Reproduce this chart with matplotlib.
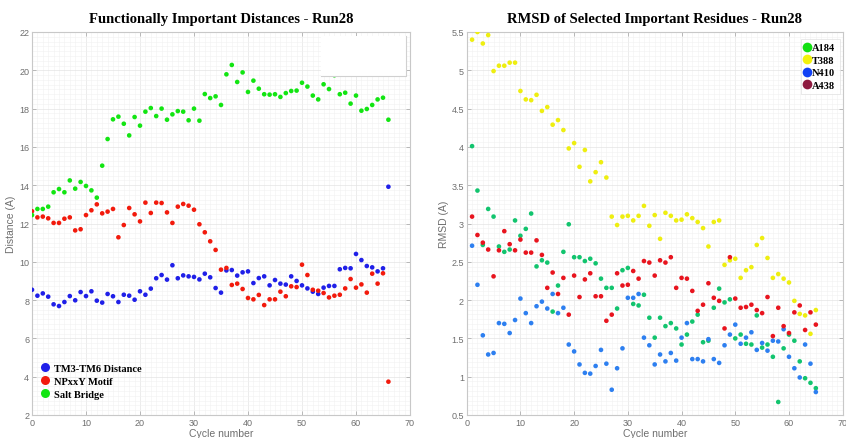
import matplotlib
matplotlib.use("Agg")
import matplotlib.pyplot as plt
from matplotlib.ticker import MultipleLocator, FuncFormatter
from matplotlib.lines import Line2D
from matplotlib.patches import Rectangle

# ---- Functionally important distances (cycles 0..66) ----
cycles_dist = list(range(0, 67))

tm3_tm6 = [8.54, 8.23, 8.35, 8.18, 7.78, 7.69, 7.90, 8.21, 7.99, 8.42,
           8.21, 8.46, 7.97, 7.87, 8.32, 8.20, 7.90, 8.28, 8.23, 8.02,
           8.46, 8.28, 8.60, 9.14, 9.31, 9.07, 9.82, 9.14, 9.29, 9.24,
           9.21, 9.08, 9.38, 9.19, 8.63, 8.39, 9.55, 9.57, 9.28, 9.45,
           9.50, 8.89, 9.15, 9.24, 8.77, 9.05, 8.86, 8.81, 9.24, 9.00,
           8.77, 8.61, 8.44, 8.32, 8.65, 8.74, 8.74, 9.61, 9.68, 9.66,
           10.41, 10.09, 9.78, 9.71, 9.50, 9.66, 13.92]

npxxy = [12.64, 12.32, 12.36, 12.27, 12.03, 12.03, 12.25, 12.32, 11.64, 11.70,
         12.44, 12.69, 13.00, 12.53, 12.62, 12.76, 11.28, 11.92, 12.81, 12.48,
         12.11, 13.09, 12.55, 13.09, 13.07, 12.58, 12.03, 12.88, 13.02, 12.93,
         12.72, 11.96, 11.54, 11.07, 10.62, 9.59, 9.68, 8.79, 8.86, 8.58,
         8.11, 8.04, 8.27, 7.74, 8.04, 8.04, 8.44, 8.20, 8.72, 8.68,
         9.85, 9.31, 8.54, 8.49, 8.37, 8.14, 8.23, 8.28, 8.61, 9.10,
         8.65, 8.82, 8.39, 9.38, 8.86, 9.40, 3.74]

salt_bridge = [12.44, 12.76, 12.76, 12.88, 13.63, 13.80, 13.63, 14.25, 13.82, 14.17,
               13.96, 13.73, 13.35, 15.02, 16.41, 17.44, 17.58, 17.21, 16.60, 17.56,
               17.11, 17.84, 18.03, 17.61, 18.00, 17.42, 17.70, 17.87, 17.84, 17.39,
               18.00, 17.37, 18.76, 18.55, 18.64, 18.19, 19.79, 20.28, 19.39, 19.89,
               18.87, 19.46, 19.04, 18.75, 18.73, 18.75, 18.61, 18.81, 18.92, 18.94,
               19.35, 19.15, 18.68, 18.48, 19.27, 19.02, 19.74, 18.75, 18.83, 18.26,
               18.68, 17.89, 17.98, 18.19, 18.48, 18.57, 17.42]

dist_labels = ["TM3-TM6 Distance", "NPxxY Motif", "Salt Bridge"]

# ---- RMSD of selected residues (cycles 1..65) ----
cycles_rmsd = list(range(1, 66))

a184 = [4.01, 3.43, 2.72, 3.19, 3.09, 2.70, 2.63, 2.66, 3.04, 2.84,
        2.93, 3.13, 2.44, 2.52, 2.49, 1.85, 2.19, 2.63, 2.99, 2.56,
        2.56, 2.51, 2.54, 2.48, 2.28, 2.16, 2.16, 1.89, 2.39, 2.42,
        1.95, 1.93, 2.07, 1.77, 1.51, 1.77, 1.66, 1.70, 1.63, 1.42,
        1.55, 1.72, 1.81, 1.45, 1.47, 1.90, 2.15, 1.97, 2.01, 1.50,
        1.55, 1.43, 1.42, 1.80, 1.38, 1.42, 1.26, 0.67, 1.37, 1.55,
        1.47, 1.20, 0.98, 0.92, 0.85]

t388 = [5.40, 5.50, 5.35, 5.46, 4.99, 5.06, 5.06, 5.10, 5.10, 4.73,
        4.62, 4.61, 4.68, 4.47, 4.52, 4.29, 4.35, 4.22, 3.98, 4.05,
        3.74, 3.96, 3.55, 3.67, 3.80, 3.60, 3.09, 2.98, 3.09, 3.10,
        3.04, 3.10, 3.23, 2.97, 3.11, 2.80, 3.14, 3.10, 3.04, 3.05,
        3.12, 3.07, 3.02, 2.94, 2.70, 3.02, 3.04, 2.46, 2.52, 2.54,
        2.29, 2.39, 2.43, 2.72, 2.81, 2.55, 2.29, 2.34, 2.28, 2.23,
        1.99, 1.82, 1.80, 1.56, 1.87]

n410 = [2.71, 2.20, 1.54, 1.29, 1.31, 1.70, 1.69, 1.57, 1.74, 2.02,
        1.83, 1.70, 1.92, 1.98, 1.89, 2.08, 1.83, 1.90, 1.42, 1.33,
        1.16, 1.05, 1.04, 1.14, 1.35, 1.17, 0.83, 1.11, 1.37, 2.03,
        2.03, 2.08, 1.51, 1.41, 1.16, 1.29, 1.20, 1.31, 1.21, 1.51,
        1.70, 1.23, 1.23, 1.20, 1.49, 1.23, 1.18, 1.41, 1.55, 1.68,
        1.43, 1.51, 1.58, 1.35, 1.44, 1.34, 1.47, 1.46, 1.62, 1.26,
        1.11, 0.99, 1.42, 1.17, 0.80]

a438 = [3.09, 2.85, 2.75, 2.66, 2.31, 2.65, 2.90, 2.73, 2.65, 2.79,
        2.62, 2.62, 2.78, 2.59, 2.16, 2.36, 2.08, 2.29, 1.81, 2.32,
        2.04, 2.27, 2.35, 2.05, 2.05, 1.73, 1.81, 2.35, 2.19, 2.20,
        2.38, 2.28, 2.51, 2.49, 2.32, 2.52, 2.49, 2.56, 2.16, 2.29,
        2.28, 2.12, 1.86, 1.94, 2.22, 2.03, 1.99, 1.63, 2.56, 2.02,
        1.90, 1.91, 1.94, 1.87, 1.83, 2.04, 1.53, 1.90, 1.66, 1.57,
        1.84, 1.93, 1.61, 1.84, 1.68]

rmsd_labels = ["A184", "T388", "N410", "A438"]

# ---- styling ----
SERIF = ["Liberation Serif", "DejaVu Serif"]
SANS = ["Liberation Sans", "DejaVu Sans"]
TICK_GRAY = "#6e6e6e"
SPINE_GRAY = "#c8c8c8"

plt.rcParams["font.family"] = SANS

fig = plt.figure(figsize=(8.46, 4.39), dpi=100)
ax1 = fig.add_axes([32 / 846, 1 - 416 / 439, 378 / 846, 383 / 439])
ax2 = fig.add_axes([466.7 / 846, 1 - 416 / 439, 376 / 846, 383 / 439])

# compact tick text: 5 instead of 5.0, 2.5 stays 2.5
compact = FuncFormatter(lambda v, _: f"{v:g}")


def style_axes(ax, xmajor, ymajor, xminor, yminor):
    ax.xaxis.set_major_locator(MultipleLocator(xmajor))
    ax.yaxis.set_major_locator(MultipleLocator(ymajor))
    ax.xaxis.set_minor_locator(MultipleLocator(xminor))
    ax.yaxis.set_minor_locator(MultipleLocator(yminor))
    ax.xaxis.set_major_formatter(compact)
    ax.yaxis.set_major_formatter(compact)
    ax.grid(which="major", color="#e4e4e4", linewidth=0.5)
    ax.grid(which="minor", color="#f1f1f1", linewidth=0.4)
    ax.set_axisbelow(True)
    for sp in ax.spines.values():
        sp.set_color(SPINE_GRAY)
        sp.set_linewidth(0.8)
    ax.tick_params(which="major", direction="in", length=3, width=0.6,
                   color="#b0b0b0", labelsize=6.5, labelcolor=TICK_GRAY,
                   top=True, right=True, pad=2)
    ax.tick_params(which="minor", length=0)


# Left panel: distances
style_axes(ax1, 10, 2, 1, 0.25)
ax1.set_xlim(0, 70)
ax1.set_ylim(2, 22)
dist_colors = ["#1f1fe8", "#f21a0c", "#12e512"]
for series, col in zip([tm3_tm6, npxxy, salt_bridge], dist_colors):
    ax1.scatter(cycles_dist, series, s=11, color=col, edgecolors="none", zorder=3)
ax1.set_xlabel("Cycle number", fontsize=7.5, color=TICK_GRAY, labelpad=1)
ax1.set_ylabel("Distance (A)", fontsize=7.5, color=TICK_GRAY, labelpad=2)
ax1.set_title("Functionally Important Distances - Run28", family=SERIF,
              fontweight="bold", fontsize=10.5, pad=7)
# empty legend box in the top-right corner
ax1.add_patch(Rectangle((0.765, 0.885), 0.225, 0.105, transform=ax1.transAxes,
                        facecolor="white", edgecolor="none", zorder=4))
ax1.plot([0.765, 0.99, 0.99], [0.885, 0.885, 0.99], transform=ax1.transAxes,
         color="#d0d0d0", linewidth=0.8, zorder=5)

handles1 = [Line2D([], [], linestyle="none", marker="o", markersize=6.5,
                   markerfacecolor=c, markeredgecolor="none") for c in dist_colors]
ax1.legend(handles1, dist_labels, loc="lower left", bbox_to_anchor=(0.005, 0.02),
           frameon=False, prop={"family": SERIF, "weight": "bold", "size": 7.5},
           handlelength=0.6, handletextpad=0.5, labelspacing=0.35, borderpad=0.3)

# Right panel: RMSD
style_axes(ax2, 10, 0.5, 1, 0.0625)
ax2.set_xlim(0, 70)
ax2.set_ylim(0.5, 5.5)
rmsd_colors = ["#12c46e", "#eeee10", "#2d7ff0", "#e8141e"]
for series, col in zip([a184, t388, n410, a438], rmsd_colors):
    ax2.scatter(cycles_rmsd, series, s=11, color=col, edgecolors="none", zorder=3)
ax2.set_xlabel("Cycle number", fontsize=7.5, color=TICK_GRAY, labelpad=1)
ax2.set_ylabel("RMSD (A)", fontsize=7.5, color=TICK_GRAY, labelpad=2)
ax2.set_title("RMSD of Selected Important Residues - Run28", family=SERIF,
              fontweight="bold", fontsize=10.5, pad=7)

legend_colors = ["#12e012", "#f2f20c", "#1040f5", "#8e1a40"]
handles2 = [Line2D([], [], linestyle="none", marker="o", markersize=7,
                   markerfacecolor=c, markeredgecolor="none") for c in legend_colors]
leg2 = ax2.legend(handles2, rmsd_labels, loc="upper right",
                  bbox_to_anchor=(1.0, 0.99), frameon=True, fancybox=False,
                  prop={"family": SERIF, "weight": "bold", "size": 7.5},
                  handlelength=0.5, handletextpad=0.2, labelspacing=0.3,
                  borderpad=0.4, borderaxespad=0.3)
leg2.get_frame().set_edgecolor("#e0e0e0")
leg2.get_frame().set_linewidth(0.6)

fig.savefig("out.png", dpi=100, facecolor="white")
